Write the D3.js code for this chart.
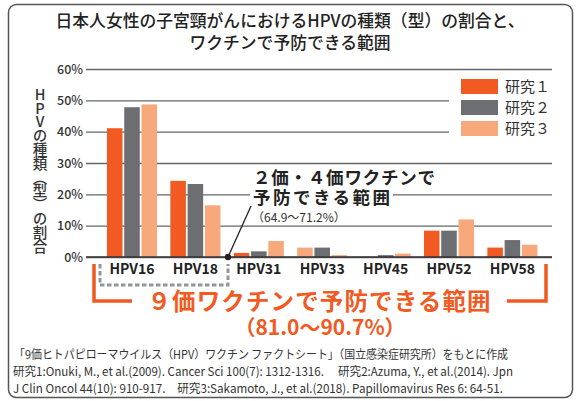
<!DOCTYPE html>
<html>
<head>
<meta charset="utf-8">
<script src="https://cdn.jsdelivr.net/npm/d3@7"></script>
<style>
  body { margin: 0; background: #fff; }
  svg text { font-family: "Noto Sans CJK JP", "Noto Sans", sans-serif; }
</style>
</head>
<body>
<svg id="chart" width="579" height="401"></svg>
<script>
// HPV types and the share (%) reported by each study
var types = ["HPV16", "HPV18", "HPV31", "HPV33", "HPV45", "HPV52", "HPV58"];
var studies = ["研究１", "研究２", "研究３"];
var study1 = [41.1, 24.3, 1.3, 3.0, 0, 8.4, 3.0];
var study2 = [47.8, 23.3, 1.8, 3.0, 0.6, 8.4, 5.4];
var study3 = [48.7, 16.5, 5.1, 0.6, 1.1, 12.0, 3.9];
var yTicks = [0, 10, 20, 30, 40, 50, 60];
var notes = [
  "「9価ヒトパピローマウイルス（HPV）ワクチン ファクトシート」（国立感染症研究所）をもとに作成",
  "研究1:Onuki, M., et al.(2009). Cancer Sci 100(7): 1312-1316.　 研究2:Azuma, Y., et al.(2014).  Jpn",
  "J Clin Oncol  44(10): 910-917.　研究3:Sakamoto, J., et al.(2018).  Papillomavirus  Res 6: 64-51."
];

var colors = ["#f15a22", "#6d6e71", "#f7a97c"];
var svg = d3.select("#chart");

// frame
svg.append("rect")
  .attr("x", 8.5).attr("y", 4.5).attr("width", 564).attr("height", 393)
  .attr("rx", 8).attr("fill", "#fff").attr("stroke", "#555").attr("stroke-width", 1.5);

// title
svg.append("text").attr("x", 290).attr("y", 27).attr("text-anchor", "middle")
  .attr("font-size", 16.8).attr("font-weight", 500).attr("fill", "#222")
  .text("日本人女性の子宮頸がんにおけるHPVの種類（型）の割合と、");
svg.append("text").attr("x", 290).attr("y", 49).attr("text-anchor", "middle")
  .attr("font-size", 16.8).attr("font-weight", 500).attr("fill", "#222")
  .text("ワクチンで予防できる範囲");

// scales
var left = 86, right = 552;
var y = d3.scaleLinear().domain([0, 60]).range([257, 69]);
var x0 = d3.scaleBand().domain(types).range([100.3, 544.1])
  .paddingInner(0.21).paddingOuter(0.105);
var x1 = d3.scaleBand().domain(studies).range([0, x0.bandwidth()]).paddingInner(0.1);

// y axis with gridlines
var yAxis = svg.append("g")
  .attr("transform", "translate(" + left + ",0)")
  .call(d3.axisLeft(y).tickValues(yTicks).tickSize(-(right - left)).tickPadding(3)
    .tickFormat(function(d) { return d + "%"; }));
yAxis.select(".domain").remove();
yAxis.selectAll("line").attr("stroke", "#666").attr("stroke-width", 1.4);
yAxis.selectAll("text").attr("font-size", 12.5).attr("font-weight", 500).attr("fill", "#333")
  .attr("font-family", "'Noto Sans', sans-serif");

// vertical axis title
svg.append("text")
  .attr("x", 40).attr("y", 87)
  .attr("font-size", 14.5).attr("font-weight", 500).attr("fill", "#333")
  .attr("letter-spacing", -0.7)
  .style("writing-mode", "vertical-rl").style("text-orientation", "upright")
  .text("HPVの種類（型）の割合");

// legend (white box hides gridlines)
svg.append("rect").attr("x", 449).attr("y", 73).attr("width", 104).attr("height", 68).attr("fill", "#fff");
var legend = svg.append("g").selectAll("g").data(studies).enter().append("g")
  .attr("transform", function(d, i) { return "translate(461," + (79 + i * 21) + ")"; });
legend.append("rect").attr("width", 37).attr("height", 15)
  .attr("fill", function(d, i) { return colors[i]; });
legend.append("text").attr("x", 44).attr("y", 13)
  .attr("font-size", 15).attr("fill", "#333").text(function(d) { return d; });

// bars
var rows = types.map(function(t, i) {
  return { type: t, values: [study1[i], study2[i], study3[i]] };
});
var groups = svg.append("g").selectAll("g").data(rows).enter().append("g")
  .attr("transform", function(d) { return "translate(" + x0(d.type) + ",0)"; });
groups.selectAll("rect")
  .data(function(d) {
    return d.values.map(function(v, i) { return { type: d.type, study: studies[i], idx: i, value: v }; });
  })
  .enter().filter(function(d) { return d.value > 0; })
  .append("rect")
  .attr("x", function(d) { return x1(d.study); })
  .attr("y", function(d) { return y(d.value); })
  .attr("width", x1.bandwidth())
  .attr("height", function(d) { return y(0) - y(d.value); })
  .attr("fill", function(d) {
    // the original paints study 1 of HPV33 in the light colour
    if (d.type === "HPV33" && d.idx === 0) return colors[2];
    return colors[d.idx];
  });

// baseline
svg.append("line").attr("x1", left).attr("x2", right).attr("y1", y(0)).attr("y2", y(0))
  .attr("stroke", "#333").attr("stroke-width", 1.6);

// x labels
svg.append("g").selectAll("text").data(types).enter().append("text")
  .attr("x", function(d) { return x0(d) + x0.bandwidth() / 2; })
  .attr("y", 274).attr("text-anchor", "middle")
  .attr("font-size", 14).attr("font-weight", 700).attr("fill", "#222")
  .attr("font-family", "'Noto Sans', sans-serif")
  .text(function(d) { return d; });

// 2/4-valent annotation
var ax = 253;
svg.append("line").attr("x1", 228).attr("y1", y(0)).attr("x2", 251).attr("y2", 206)
  .attr("stroke", "#222").attr("stroke-width", 1.3);
svg.append("circle").attr("cx", 228).attr("cy", y(0)).attr("r", 3.2).attr("fill", "#222");
svg.append("rect").attr("x", ax - 3).attr("y", 187).attr("width", 143).attr("height", 19).attr("fill", "#fff");
svg.append("text").attr("x", ax).attr("y", 184).attr("font-size", 17.5).attr("font-weight", 700)
  .attr("fill", "#222").attr("textLength", 182).text("２価・４価ワクチンで");
svg.append("text").attr("x", ax).attr("y", 203.5).attr("font-size", 17.5).attr("font-weight", 700)
  .attr("fill", "#222").attr("textLength", 137).text("予防できる範囲");
svg.append("text").attr("x", ax - 1).attr("y", 222).attr("font-size", 12).attr("fill", "#333")
  .text("（64.9〜71.2%）");

// gray dashed bracket (HPV16/18)
svg.append("path").attr("d", "M100,264 V285 H228 V264")
  .attr("fill", "none").attr("stroke", "#939598").attr("stroke-width", 3)
  .attr("stroke-dasharray", "4.5,2.5");

// orange bracket (9-valent)
svg.append("path").attr("d", "M94,264 V301 H132")
  .attr("fill", "none").attr("stroke", "#f15a22").attr("stroke-width", 3.5);
svg.append("path").attr("d", "M507,301 H546 V264")
  .attr("fill", "none").attr("stroke", "#f15a22").attr("stroke-width", 3.5);
svg.append("text").attr("x", 319).attr("y", 310).attr("text-anchor", "middle")
  .attr("font-size", 23.5).attr("font-weight", 700).attr("fill", "#f15a22")
  .attr("textLength", 343)
  .text("９価ワクチンで予防できる範囲");
svg.append("text").attr("x", 320).attr("y", 335).attr("text-anchor", "middle")
  .attr("font-size", 21).attr("font-weight", 700).attr("fill", "#f15a22")
  .text("（81.0〜90.7%）");

// footnotes
var noteX = [14, 13, 13], noteW = [494, 500, 490];
svg.append("g").selectAll("text").data(notes).enter().append("text")
  .attr("x", function(d, i) { return noteX[i]; })
  .attr("y", function(d, i) { return 359 + i * 17; })
  .attr("font-size", 12).attr("fill", "#333")
  .attr("textLength", function(d, i) { return noteW[i]; })
  .attr("lengthAdjust", "spacingAndGlyphs")
  .text(function(d) { return d; });
</script>
</body>
</html>
